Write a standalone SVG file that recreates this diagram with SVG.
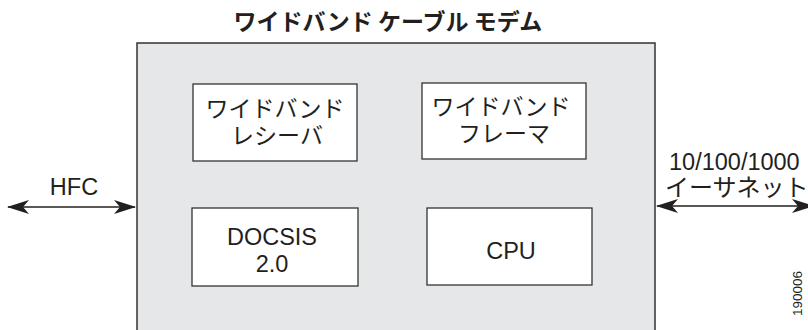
<svg xmlns="http://www.w3.org/2000/svg" width="808" height="330" viewBox="0 0 808 330">
<style>
.t{font-family:"Noto Sans CJK JP","Liberation Sans",sans-serif;fill:#231f20;}
.l{font-family:"Liberation Sans","Noto Sans CJK JP",sans-serif;fill:#231f20;}
.box{fill:#fff;stroke:#333;stroke-width:1.3;}
.ln{stroke:#231f20;stroke-width:1.3;fill:none;}
</style>
<defs>
<marker id="ah" viewBox="0 0 22 14" refX="21" refY="7" markerWidth="22" markerHeight="14" markerUnits="userSpaceOnUse" orient="auto-start-reverse">
<path d="M0,0 L22,7 L0,14 L6,7 Z" fill="#231f20"/>
</marker>
</defs>
<rect width="808" height="330" fill="#fff"/>
<g id="modem">
<rect x="137" y="43" width="518" height="300" fill="#e6e7e8" stroke="#333" stroke-width="1.5"/>
<text class="t" x="388" y="30" font-size="23" font-weight="bold" text-anchor="middle">ワイドバンド ケーブル モデム</text>
</g>
<g id="receiver">
<rect class="box" x="193" y="84" width="164" height="77"/>
<text class="t" x="275" y="117" font-size="23" text-anchor="middle">ワイドバンド</text>
<text class="t" x="277" y="144" font-size="23" text-anchor="middle">レシーバ</text>
</g>
<g id="framer">
<rect class="box" x="422" y="83" width="164" height="76"/>
<text class="t" x="501" y="115" font-size="23" text-anchor="middle">ワイドバンド</text>
<text class="t" x="504" y="142" font-size="23" text-anchor="middle">フレーマ</text>
</g>
<g id="docsis">
<rect class="box" x="192" y="208" width="166" height="78"/>
<text class="l" x="272" y="245" font-size="23.5" text-anchor="middle">DOCSIS</text>
<text class="l" x="272" y="272" font-size="23.5" text-anchor="middle">2.0</text>
</g>
<g id="cpu">
<rect class="box" x="427" y="208" width="165" height="77"/>
<text class="l" x="511" y="259" font-size="23.5" text-anchor="middle">CPU</text>
</g>
<g id="connectors">
<line class="ln" x1="8" y1="207" x2="135" y2="207" marker-start="url(#ah)" marker-end="url(#ah)"/>
<line class="ln" x1="657" y1="206" x2="813" y2="206" marker-start="url(#ah)" marker-end="url(#ah)"/>
</g>
<g id="labels">
<text class="l" x="74" y="195" font-size="23.5" text-anchor="middle">HFC</text>
<text class="l" x="669" y="170" font-size="23.5">10/100/1000</text>
<text class="t" x="665" y="196" font-size="24">イーサネット</text>
<text class="l" font-size="13.5" transform="translate(802,316) rotate(-90)">190006</text>
</g>
</svg>
